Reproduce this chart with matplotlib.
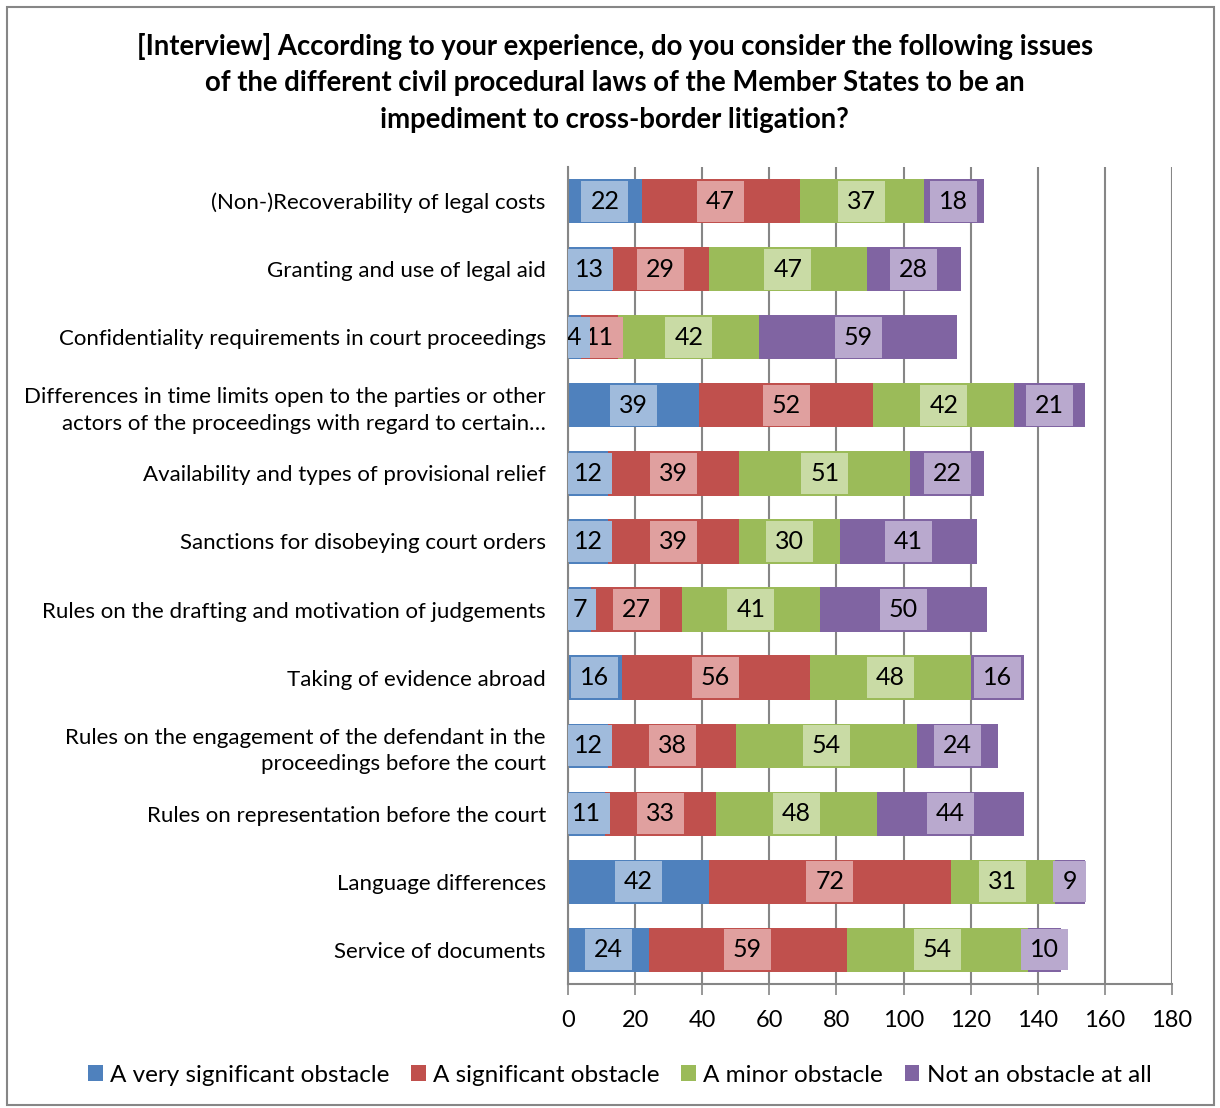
import matplotlib.pyplot as plt
from matplotlib.patches import Rectangle

plt.rcParams['font.family'] = ['Lato', 'DejaVu Sans']

categories = [
    "(Non-)Recoverability of legal costs",
    "Granting and use of legal aid",
    "Confidentiality requirements in court proceedings",
    "Differences in time limits open to the parties or other\nactors of the proceedings with regard to certain…",
    "Availability and types of provisional relief",
    "Sanctions for disobeying court orders",
    "Rules on the drafting and motivation of judgements",
    "Taking of evidence abroad",
    "Rules on the engagement of the defendant in the\nproceedings before the court",
    "Rules on representation before the court",
    "Language differences",
    "Service of documents",
]
very_significant = [22, 13, 4, 39, 12, 12, 7, 16, 12, 11, 42, 24]
significant = [47, 29, 11, 52, 39, 39, 27, 56, 38, 33, 72, 59]
minor = [37, 47, 42, 42, 51, 30, 41, 48, 54, 48, 31, 54]
not_at_all = [18, 28, 59, 21, 22, 41, 50, 16, 24, 44, 9, 10]

series = [
    ("A very significant obstacle", very_significant, "#4F81BD", "#A0BBDC"),
    ("A significant obstacle", significant, "#C0504D", "#E0A09F"),
    ("A minor obstacle", minor, "#9BBB59", "#C9DBA5"),
    ("Not an obstacle at all", not_at_all, "#8064A2", "#B9A9CE"),
]

fig = plt.figure(figsize=(12.2, 11.08), dpi=100)
ax = fig.add_axes([568 / 1220, 1 - 984 / 1108, 604 / 1220, 817 / 1108])

y = list(range(len(categories)))
left = [0] * len(categories)
for name, vals, col, light in series:
    ax.barh(y, vals, left=left, height=0.65, color=col, label=name, zorder=2)
    for i, v in enumerate(vals):
        # tiny first segments: push the label against the axis, on top
        if left[i] == 0 and v < 5:
            x, ha, z = -0.4, 'left', 4
        else:
            x, ha, z = left[i] + v / 2, 'center', 3
        ax.text(x, i, str(v), ha=ha, va='center', fontsize=18,
                color='black', zorder=z, clip_on=True,
                bbox=dict(boxstyle='square,pad=0.36', fc=light, ec='none'))
    left = [a + b for a, b in zip(left, vals)]

ax.set_xlim(0, 180)
ax.set_ylim(len(categories) - 0.5, -0.5)
ax.set_xticks(range(0, 181, 20))
ax.set_yticks(y)
ax.set_yticklabels(categories, fontsize=16, linespacing=1.4)
ax.tick_params(axis='y', length=0, pad=16)
ax.tick_params(axis='x', length=8, width=1.2, color='#868686', pad=11, labelsize=17)
ax.xaxis.grid(True, color='#868686', linewidth=1.5, zorder=0)
ax.set_axisbelow(True)
for s in ['top', 'right']:
    ax.spines[s].set_visible(False)
for s in ['left', 'bottom']:
    ax.spines[s].set_color('#868686')
    ax.spines[s].set_linewidth(1.5)

fig.text(0.504, 1 - 83 / 1108,
         "[Interview] According to your experience, do you consider the following issues\n"
         "of the different civil procedural laws of the Member States to be an\n"
         "impediment to cross-border litigation?",
         ha='center', va='center', fontsize=19.8, fontweight='bold', linespacing=1.48)

fig.legend(loc='center', bbox_to_anchor=(0.508, 1 - 1075 / 1108), ncol=4, frameon=False,
           fontsize=17.5, handlelength=0.6, handleheight=0.6, handletextpad=0.3,
           columnspacing=0.9)

fig.patches.append(Rectangle((7 / 1220, 3 / 1108), 1207 / 1220, 1098 / 1108,
                             transform=fig.transFigure, fill=False,
                             edgecolor='#868686', linewidth=1.5))

fig.savefig('out.png', dpi=100)
